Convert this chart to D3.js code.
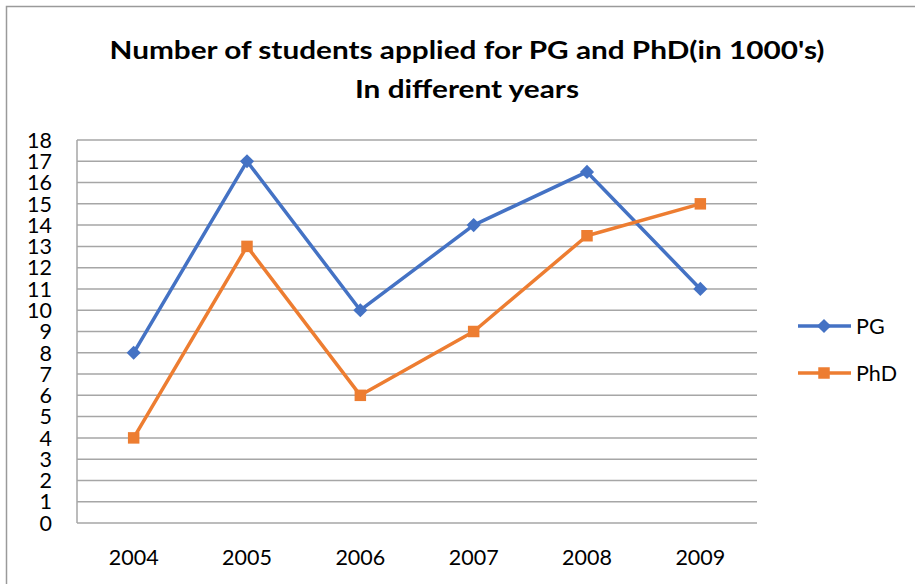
<!DOCTYPE html>
<html><head><meta charset="utf-8">
<script src="https://cdn.jsdelivr.net/npm/d3@7"></script>
<style>body{margin:0;background:#fff}svg{display:block}text{font-family:Lato,"Open Sans",sans-serif}</style>
</head><body><svg width="915" height="584"></svg>
<script>
const categories = ["2004","2005","2006","2007","2008","2009"];
const pgValues = [8, 17, 10, 14, 16.5, 11];
const phdValues = [4, 13, 6, 9, 13.5, 15];
const yTicks = d3.range(0, 19);
const seriesNames = ["PG", "PhD"];
const titleLines = ["Number of students applied for PG and PhD(in 1000's)", "In different years"];

const svg = d3.select("svg");
svg.append("rect").attr("x",6.5).attr("y",6.5).attr("width",930).attr("height",600)
  .attr("fill","none").attr("stroke","#9a9a9a").attr("stroke-width",1.5);

const pLeft=77, pRight=757, pTop=140, pBottom=523;
const x = d3.scaleBand().domain(categories).range([pLeft,pRight]);
const y = d3.scaleLinear().domain([0,18]).range([pBottom,pTop]);

// gridlines
svg.append("g").selectAll("line").data(yTicks).join("line")
  .attr("x1",pLeft).attr("x2",pRight).attr("y1",d=>y(d)).attr("y2",d=>y(d))
  .attr("stroke","#a6a6a6").attr("stroke-width",1.5);
svg.append("line").attr("x1",pLeft).attr("x2",pLeft).attr("y1",pTop).attr("y2",pBottom)
  .attr("stroke","#a6a6a6").attr("stroke-width",1.5);

// y labels
svg.append("g").selectAll("text").data(yTicks).join("text")
  .attr("x",52).attr("y",d=>y(d)).attr("dy","0.36em").attr("text-anchor","end")
  .attr("font-size",21.5).attr("fill","#000").text(d=>d);

// x labels
svg.append("g").selectAll("text").data(categories).join("text")
  .attr("x",d=>x(d)+x.bandwidth()/2).attr("y",564.5).attr("text-anchor","middle")
  .attr("font-size",21.5).attr("fill","#000").text(d=>d);

// title
const titleWidths = [715, 224];
svg.append("g").selectAll("text").data(titleLines).join("text")
  .attr("x",467).attr("y",(d,i)=>59+i*38.5).attr("text-anchor","middle")
  .attr("font-size",25).attr("font-weight","bold").attr("fill","#000")
  .attr("textLength",(d,i)=>titleWidths[i]).attr("lengthAdjust","spacingAndGlyphs")
  .text(d=>d);

const series = [
  {name:seriesNames[0], values:pgValues, color:"#4472C4", sym:d3.symbolSquare, size:100, rot:45},
  {name:seriesNames[1], values:phdValues, color:"#ED7D31", sym:d3.symbolSquare, size:132, rot:0}
];
const line = d3.line().x((d,i)=>x(categories[i])+x.bandwidth()/2).y(d=>y(d));
series.forEach((s,si)=>{
  svg.append("path").datum(s.values).attr("d",line).attr("fill","none")
    .attr("stroke",s.color).attr("stroke-width",3.5).attr("stroke-linejoin","round");
  svg.append("g").selectAll("path").data(s.values).join("path")
    .attr("transform",(d,i)=>`translate(${x(categories[i])+x.bandwidth()/2},${y(d)}) rotate(${s.rot})`)
    .attr("d",d3.symbol().type(s.sym).size(s.size)).attr("fill",s.color);
  const ly = 326 + si*47;
  svg.append("line").attr("x1",798).attr("x2",851).attr("y1",ly).attr("y2",ly)
    .attr("stroke",s.color).attr("stroke-width",3.5);
  svg.append("path").attr("transform",`translate(824,${ly}) rotate(${s.rot})`)
    .attr("d",d3.symbol().type(s.sym).size(s.size)).attr("fill",s.color);
  svg.append("text").attr("x",856).attr("y",ly).attr("dy","0.36em")
    .attr("font-size",21.5).attr("fill","#000").text(s.name);
});
</script></body></html>
